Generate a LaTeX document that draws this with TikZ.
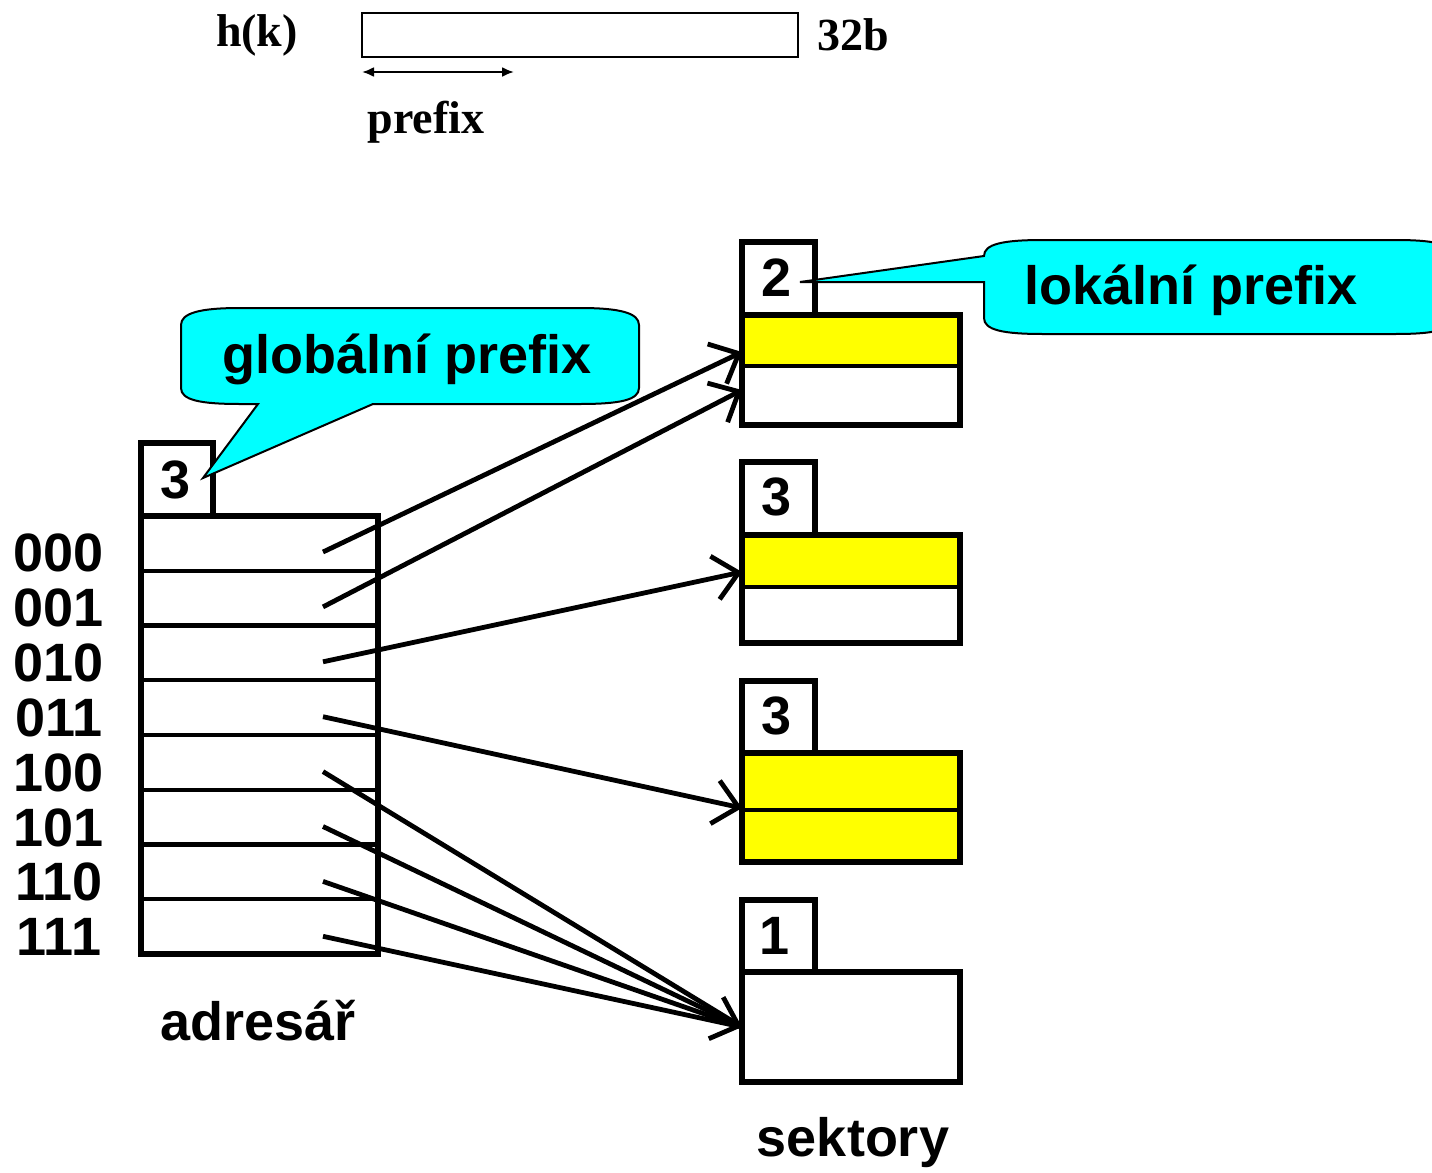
\documentclass[tikz,border=0pt]{standalone}
\usepackage{fontspec}
\setmainfont{Liberation Sans}
\newfontfamily\timesb{Liberation Serif}
\usetikzlibrary{arrows.meta}
\definecolor{callcyan}{RGB}{0,255,255}
\definecolor{bucketyellow}{RGB}{255,255,0}
\begin{document}
\begin{tikzpicture}[x=0.5pt,y=-0.5pt,
  box/.style={line width=2.6pt},
  div/.style={line width=2.2pt},
  plainlink/.style={line width=2.4pt},
  link/.style={plainlink, -{Straight Barb[length=12pt,width=22pt]}},
  lbl/.style={font=\bfseries\fontsize{27}{30}\selectfont, inner sep=0pt},
  tlbl/.style={font=\timesb\bfseries\fontsize{23}{26}\selectfont, inner sep=0pt},
  callout/.style={fill=callcyan, draw=black, line width=1pt}]
\useasboundingbox (0,0) rectangle (1432,1173);

% --- top: hash value
\node[tlbl] (hk) at (257,35) {h(k)};
\draw[line width=1.2pt] (362,13) rectangle (798,57);
\node[tlbl] (bits) at (853,35) {32b};
\coordinate (pa) at (362,72);
\coordinate (pb) at (514,72);
\draw[line width=1.1pt, {Latex[length=6pt,width=5pt]}-{Latex[length=6pt,width=5pt]}] (pa) -- (pb);
\node[tlbl] (pfx) at (426,122) {prefix};

% --- directory
\draw[box] (141,443) rectangle (213,516);
\node[lbl] (gd) at (176,480) {3};
\draw[box] (141,516) rectangle (378,954);
\foreach \i in {1,...,7} {
  \draw[div] (141,{516+54.75*\i}) -- (378,{516+54.75*\i});
}
\foreach \t [count=\i from 0] in {000,001,010,011,100,101,110,111} {
  \node[lbl] (lab\i) at (59,{553+54.9*\i}) {\t};
  \coordinate (s\i) at (323,{552+54.9*\i});
}
\node[lbl] (adr) at (258,1021) {adresář};

% --- buckets
% bucket 1
\fill[bucketyellow] (742,315) rectangle (960,366);
\draw[box] (742,242) rectangle (815,315);
\draw[box] (742,315) rectangle (960,425);
\draw[div] (742,366) -- (960,366);
\node[lbl] (ld1) at (777,278) {2};
% bucket 2
\fill[bucketyellow] (742,535) rectangle (960,587);
\draw[box] (742,462) rectangle (815,535);
\draw[box] (742,535) rectangle (960,643);
\draw[div] (742,587) -- (960,587);
\node[lbl] (ld2) at (777,497) {3};
% bucket 3
\fill[bucketyellow] (742,753) rectangle (960,862);
\draw[box] (742,681) rectangle (815,753);
\draw[box] (742,753) rectangle (960,862);
\draw[div] (742,810) -- (960,810);
\node[lbl] (ld3) at (777,716) {3};
% bucket 4
\draw[box] (742,900) rectangle (815,972);
\draw[box] (742,972) rectangle (960,1082);
\node[lbl] (ld4) at (775,936) {1};
\node[lbl] (sek) at (853,1143) {sektory};

% --- pointers
\coordinate (t1) at (742,352);
\coordinate (t2) at (742,390);
\coordinate (t3) at (742,572);
\coordinate (t4) at (742,808);
\coordinate (t5) at (742,1027);
\draw[link] (s0) -- (t1);
\draw[link] (s1) -- (t2);
\draw[link] (s2) -- (t3);
\draw[link] (s3) -- (t4);
\draw[plainlink] (s4) -- (t5);
\draw[plainlink] (s5) -- (t5);
\draw[link] (s6) -- (t5);
\draw[plainlink] (s7) -- (t5);

% --- callouts
\coordinate (gtip) at (203,478);
\draw[callout] (181,325) -- (181,388) .. controls (181,400) and (200,404) .. (240,404)
  -- (258,404) -- (gtip) -- (373,404) -- (580,404)
  .. controls (620,404) and (639,400) .. (639,388) -- (639,325)
  .. controls (639,313) and (620,308) .. (580,308) -- (240,308)
  .. controls (200,308) and (181,313) .. (181,325) -- cycle;
\node[lbl] (glob) at (407,359) {globální prefix};

\coordinate (ltip) at (800,282);
\draw[callout] (984,256) -- (ltip) -- (984,282) -- (984,318)
  .. controls (984,330) and (1003,334) .. (1043,334) -- (1395,334)
  .. controls (1435,334) and (1452,330) .. (1452,318) -- (1452,256)
  .. controls (1452,244) and (1435,240) .. (1395,240) -- (1043,240)
  .. controls (1003,240) and (984,244) .. (984,256) -- cycle;
\node[lbl] (loc) at (1191,290) {lokální prefix};
\end{tikzpicture}
\end{document}
